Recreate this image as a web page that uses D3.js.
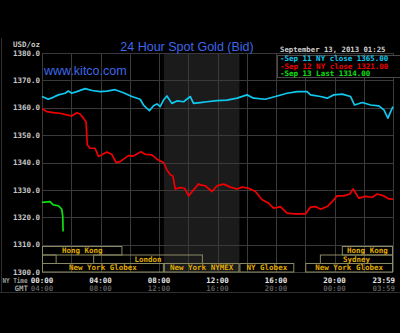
<!DOCTYPE html>
<html>
<head>
<meta charset="utf-8">
<script src="https://cdn.jsdelivr.net/npm/d3@7"></script>
<style>
  html, body { margin: 0; padding: 0; background: #000; }
  svg { display: block; }
  .mono { font-family: "DejaVu Sans Mono", "Liberation Mono", monospace; font-weight: bold; }
</style>
</head>
<body>
<div id="chart"></div>
<script>
// price axis ticks
var priceTicks = [1300, 1310, 1320, 1330, 1340, 1350, 1360, 1370, 1380];
// time axis (NY time, hours) and labels
var timeTicks = [0, 4, 8, 12, 16, 20, 24];
var nyLabels = ["00:00", "04:00", "08:00", "12:00", "16:00", "20:00", "23:59"];
var gmtLabels = ["04:00", "08:00", "12:00", "16:00", "20:00", "00:00", "03:59"];

// Sep 11 (cyan)
var sep11Hours = [0, 0.43, 0.77, 1.12, 1.58, 1.8, 2.03, 2.38, 2.95, 3.42, 3.97, 4.43, 5.0, 5.57, 6.14, 6.71, 6.94, 7.35, 7.62, 7.86, 8.08, 8.31, 8.54, 8.88, 9.23, 9.68, 10.14, 10.36, 10.82, 11.28, 11.97, 12.65, 13.34, 14.02, 14.47, 15.27, 16.08, 16.76, 17.45, 18.13, 18.36, 19.04, 19.5, 19.95, 20.53, 21.1, 21.37, 21.9, 22.47, 23.03, 23.38, 23.65, 23.84, 24];
var sep11Prices = [1364.1, 1363.1, 1363.8, 1364.7, 1365.3, 1366.1, 1365.3, 1365.9, 1367.0, 1366.3, 1365.9, 1366.1, 1366.6, 1365.5, 1364.1, 1363.1, 1361.0, 1358.9, 1360.7, 1361.4, 1360.4, 1362.8, 1364.3, 1361.6, 1362.5, 1362.2, 1364.1, 1361.6, 1361.9, 1362.2, 1362.6, 1362.8, 1363.5, 1364.7, 1363.5, 1363.1, 1364.3, 1365.3, 1365.9, 1365.9, 1364.7, 1364.1, 1363.5, 1364.7, 1365.0, 1364.1, 1361.0, 1361.9, 1361.0, 1360.7, 1359.2, 1356.2, 1358.6, 1360.4];

// Sep 12 (red)
var sep12Hours = [0, 0.32, 0.77, 1.23, 1.69, 2.03, 2.38, 2.6, 2.83, 3.01, 3.1, 3.29, 3.63, 3.86, 4.09, 4.43, 4.77, 5.07, 5.34, 5.68, 5.91, 6.25, 6.76, 7.05, 7.51, 7.86, 8.31, 8.54, 8.77, 8.95, 9.11, 9.45, 9.75, 10.02, 10.36, 10.71, 10.82, 11.16, 11.62, 11.97, 12.42, 12.88, 13.34, 13.68, 14.13, 14.59, 15.05, 15.5, 15.84, 16.3, 16.76, 17.21, 18.01, 18.36, 18.7, 19.04, 19.5, 19.84, 20.18, 20.64, 21.05, 21.28, 21.66, 22.12, 22.58, 22.92, 23.38, 23.72, 24];
var sep12Prices = [1359.6, 1358.6, 1358.2, 1358.0, 1357.4, 1357.0, 1358.2, 1357.7, 1356.2, 1354.9, 1346.4, 1345.2, 1345.2, 1342.2, 1342.8, 1343.8, 1343.0, 1340.0, 1340.3, 1341.6, 1342.5, 1342.4, 1343.9, 1343.0, 1342.8, 1341.2, 1340.0, 1337.3, 1335.5, 1335.1, 1330.3, 1330.8, 1330.6, 1327.8, 1330.0, 1332.2, 1331.8, 1331.5, 1329.4, 1331.5, 1332.1, 1331.0, 1330.3, 1331.0, 1330.6, 1329.4, 1326.4, 1325.1, 1323.3, 1323.9, 1321.5, 1321.2, 1321.2, 1323.7, 1323.9, 1322.9, 1323.9, 1325.7, 1327.8, 1327.8, 1328.5, 1330.3, 1327.0, 1327.6, 1327.3, 1328.5, 1327.8, 1326.7, 1326.6];

// Sep 13 (green, up to 01:25)
var sep13Hours = [0, 0.55, 0.77, 1.12, 1.35, 1.42, 1.44];
var sep13Prices = [1325.4, 1325.7, 1324.5, 1324.2, 1323.0, 1320.3, 1314.8];

// legend texts
var legendTexts = ["-Sep 11 NY close 1365.00", "-Sep 12 NY close 1321.00", "-Sep 13 Last 1314.00"];

// trading sessions: name, row, start, end (NY time hours)
var sessionNames = ["Hong Kong", "", "London", "New York Globex", "New York NYMEX", "NY Globex", "New York Globex", "Sydney", "Hong Kong"];
var sessionRows = [0, 1, 1, 2, 2, 2, 2, 1, 0];
var sessionStart = [0, 0, 3.5, 0, 8.33, 13.5, 18.0, 19.0, 20.5];
var sessionEnd = [5.5, 1.0, 11.0, 8.33, 13.5, 17.25, 24, 24, 24];

// NY pit hours (shaded)
var pitHours = [8.33, 13.5];

var W = 400, H = 333;
var svg = d3.select("#chart").append("svg").attr("width", W).attr("height", H);
svg.append("rect").attr("width", W).attr("height", H).attr("fill", "#000");

var x = d3.scaleLinear().domain([0, 24]).range([42, 393]);
var y = d3.scaleLinear().domain([1300, 1380]).range([272, 53]);

// frame
svg.append("line").attr("x1", 1.5).attr("x2", 1.5).attr("y1", 38).attr("y2", 292).attr("stroke", "#2e2e2e");
svg.append("line").attr("x1", 0).attr("x2", W).attr("y1", 292.5).attr("y2", 292.5).attr("stroke", "#2e2e2e");

// shaded pit session
svg.append("rect")
  .attr("x", x(pitHours[0])).attr("y", y(1380))
  .attr("width", x(pitHours[1]) - x(pitHours[0]))
  .attr("height", y(1300) - y(1380))
  .attr("fill", "#1b1b1b");

// grid
var gridH = d3.range(0, 25, 2);
svg.append("g").selectAll("line").data(gridH).enter().append("line")
  .attr("x1", function(d) { return Math.round(x(d)) + 0.5; })
  .attr("x2", function(d) { return Math.round(x(d)) + 0.5; })
  .attr("y1", y(1380)).attr("y2", y(1300))
  .attr("stroke", "#3a3a3a");
svg.append("g").selectAll("line").data(priceTicks).enter().append("line")
  .attr("x1", x(0)).attr("x2", x(24))
  .attr("y1", function(d) { return Math.round(y(d)) + 0.5; })
  .attr("y2", function(d) { return Math.round(y(d)) + 0.5; })
  .attr("stroke", "#3a3a3a");

// y labels
svg.append("g").selectAll("text").data(priceTicks).enter().append("text")
  .attr("class", "mono")
  .attr("x", 40).attr("y", function(d) { return y(d); })
  .attr("dy", "0.35em")
  .attr("text-anchor", "end")
  .attr("font-size", "7.5px")
  .attr("fill", "#c8c8c8")
  .text(function(d) { return d3.format(".1f")(d); });
svg.append("text").attr("class", "mono")
  .attr("x", 40).attr("y", 46.5).attr("text-anchor", "end")
  .attr("font-size", "7.5px").attr("fill", "#c8c8c8").text("USD/oz");

// x labels
svg.append("text").attr("class", "mono").attr("x", 2.5).attr("y", 283)
  .attr("textLength", 25).attr("lengthAdjust", "spacingAndGlyphs")
  .attr("font-size", "7px").attr("fill", "#a0a0a0").text("NY Time");
svg.append("text").attr("class", "mono").attr("x", 28).attr("y", 291)
  .attr("text-anchor", "end").attr("font-size", "7.5px").attr("fill", "#a0a0a0").text("GMT");

svg.append("g").selectAll("text").data(timeTicks).enter().append("text")
  .attr("class", "mono")
  .attr("x", function(d, i) { return i === timeTicks.length - 1 ? 395 : x(d); })
  .attr("y", 283)
  .attr("text-anchor", function(d, i) { return i === timeTicks.length - 1 ? "end" : "middle"; })
  .attr("font-size", "7.5px").attr("fill", "#e6e6e6")
  .text(function(d, i) { return nyLabels[i]; });
svg.append("g").selectAll("text").data(timeTicks).enter().append("text")
  .attr("class", "mono")
  .attr("x", function(d, i) { return i === timeTicks.length - 1 ? 395 : x(d); })
  .attr("y", 291)
  .attr("text-anchor", function(d, i) { return i === timeTicks.length - 1 ? "end" : "middle"; })
  .attr("font-size", "7.5px").attr("fill", "#5a5a5a")
  .text(function(d, i) { return gmtLabels[i]; });

// sessions
var rowTop = [246.5, 255, 263.5], rowH = 8.5;
var sessions = sessionNames.map(function(n, i) {
  return {name: n, row: sessionRows[i], s: sessionStart[i], e: sessionEnd[i]};
});
var sg = svg.append("g").selectAll("g").data(sessions).enter().append("g");
sg.append("rect")
  .attr("x", function(d) { return x(d.s) + 0.5; })
  .attr("y", function(d) { return rowTop[d.row]; })
  .attr("width", function(d) { return x(d.e) - x(d.s) - 1; })
  .attr("height", rowH)
  .attr("fill", "none").attr("stroke", "#8a8a62").attr("stroke-width", 1);
sg.append("text").attr("class", "mono")
  .attr("x", function(d) { return (x(d.s) + x(d.e)) / 2; })
  .attr("y", function(d) { return rowTop[d.row] + rowH / 2; })
  .attr("dy", "0.35em").attr("text-anchor", "middle")
  .attr("font-size", "7.5px").attr("font-weight", "normal")
  .attr("fill", "#e0ac00")
  .text(function(d) { return d.name; });

// lines
var line = d3.line()
  .x(function(d) { return x(d[0]); })
  .y(function(d) { return y(d[1]); });

function drawSeries(hours, prices, color, width) {
  svg.append("path")
    .datum(hours.map(function(h, i) { return [h, prices[i]]; }))
    .attr("d", line)
    .attr("fill", "none")
    .attr("stroke", color)
    .attr("stroke-width", width)
    .attr("stroke-linejoin", "round");
}
drawSeries(sep11Hours, sep11Prices, "#10c8ee", 1.7);
drawSeries(sep12Hours, sep12Prices, "#f00000", 1.7);
drawSeries(sep13Hours, sep13Prices, "#10e010", 1.7);

// title and site
svg.append("text")
  .attr("x", 187).attr("y", 50.5).attr("text-anchor", "middle")
  .attr("font-family", "'Liberation Sans', Arial, sans-serif")
  .attr("font-size", "12.5px").attr("fill", "#3f67e8")
  .text("24 Hour Spot Gold (Bid)");
svg.append("text")
  .attr("x", 44).attr("y", 75)
  .attr("font-family", "'Liberation Sans', Arial, sans-serif")
  .attr("font-size", "12.5px").attr("fill", "#3f67e8")
  .text("www.kitco.com");

// date
svg.append("text").attr("class", "mono")
  .attr("x", 280).attr("y", 51.5)
  .attr("font-size", "7.3px").attr("fill", "#d0d0d0")
  .text("September 13, 2013 01:25");

// legend
svg.append("rect").attr("x", 277.5).attr("y", 55.5).attr("width", 130).attr("height", 22)
  .attr("fill", "#000").attr("stroke", "#4a4a4a");
var legendColors = ["#10c8ee", "#f00000", "#10e010"];
svg.append("g").selectAll("text").data(legendTexts).enter().append("text")
  .attr("class", "mono")
  .attr("x", 280).attr("y", function(d, i) { return 61 + i * 7.5; })
  .attr("font-size", "7.5px")
  .attr("fill", function(d, i) { return legendColors[i]; })
  .text(function(d) { return d; });
</script>
</body>
</html>
